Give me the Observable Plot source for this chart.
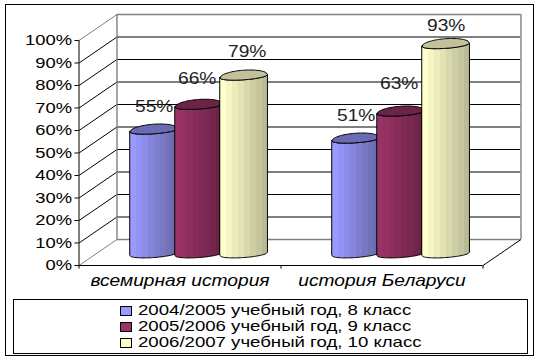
<!DOCTYPE html>
<html><head><meta charset="utf-8">
<script src="https://cdn.jsdelivr.net/npm/d3@7"></script>
<script src="https://cdn.jsdelivr.net/npm/@observablehq/plot@0.6"></script>
<style>
html,body{margin:0;padding:0;background:#fff;width:541px;height:361px;overflow:hidden}
body{position:relative;font-family:"Liberation Sans",Arial,sans-serif;color:#000}
#frame{position:absolute;left:5px;top:4px;width:527px;height:350px;border:1.5px solid #000;pointer-events:none}
#chart{position:absolute;left:0;top:0}
#chart svg{display:block}
#legend{position:absolute;left:13px;top:299px;width:513px;height:53px;border:1.5px solid #000}
.row{position:absolute;left:106px;height:16px;white-space:nowrap}
.sw{position:absolute;left:0;top:2px;width:10px;height:8px;border:1px solid #000}
.tx{position:absolute;left:18px;top:-3px;font-size:15px;line-height:17px;transform:scaleX(1.24);transform-origin:0 0}
</style></head><body>
<div id="chart"></div>
<div id="legend"></div>
<div id="frame"></div>
<script>
const categories = ["всемирная история", "история Беларуси"];
const seriesNames = ["2004/2005 учебный год, 8 класс", "2005/2006 учебный год, 9 класс", "2006/2007 учебный год, 10 класс"];
const series2004 = [55, 51];
const series2005 = [66, 63];
const series2006 = [79, 93];
const yTicks = [0, 10, 20, 30, 40, 50, 60, 70, 80, 90, 100];
const catTicks = [0, 1, 2];

// styles
const swatchColors = ["#9999ff", "#993366", "#ffffcc"];
const topColors = ["#6b6bb3", "#6b2447", "#c2c29a"];
const bands = [
  ["#9999ff","#9292f3","#8c8ce8","#8585dc","#7f7fd0","#7878c4","#7272b8","#6b6bad"],
  ["#993366","#933162","#8c2f5e","#852c59","#7f2a55","#782851","#72264c","#6b2448"],
  ["#ffffcc","#f5f5c4","#ecebbc","#e2e2b5","#d8d8ad","#cecea5","#c5c59e","#bbbb96"]
];
const labelLift = [[7.7, 9.3, 8.4], [7.7, 10.3, 5.8]]; // label height above the cylinder, in axis units
const labelShift = [[0, -2, 3], [0, -2, 0]];           // label sideways nudge, in pixels

// pseudo-3D projection, in units of the two scales
const depthX = 0.188, depthY = 11.55;      // back wall offset
const start = 0.255, step = 0.2228, barW = 0.2347; // cylinder placement within a category
const baseY = 5.33;                        // cylinder floor position
const back = 6 / 2.25, front = 3.6 / 2.25, tilt = 1.65 / 2.25, chordDrop = 0.95 / 2.25;

const values = [series2004, series2005, series2006];
const ts = d3.range(-1, 1.0001, 0.05);
const cylinder = (cat, s) => {
  const x0 = cat + start + s * step, v = values[s][cat];
  return ts.map(t => {
    const r = Math.sqrt(Math.max(0, 1 - t * t)), c = tilt * t - chordDrop;
    return {
      x: x0 + (t + 1) / 2 * barW,
      bot: baseY + c - front * r,
      topFront: v + baseY + c - front * r,
      topBack: v + baseY + c + back * r
    };
  });
};

const defs = () => {
  const d = d3.create("svg:defs");
  bands.forEach((b, i) => {
    const g = d.append("linearGradient").attr("id", "cyl" + i).attr("x1", 0).attr("x2", 1).attr("y1", 0).attr("y2", 0);
    b.forEach((c, k) => {
      g.append("stop").attr("offset", k / b.length).attr("stop-color", c);
      g.append("stop").attr("offset", (k + 1) / b.length).attr("stop-color", c);
    });
  });
  return d.node();
};

const wall = "#808080";
const marks = [
  defs,
  // grid on back wall and left wall
  Plot.ruleY(yTicks.filter(v => v > 0 && v < 100), {x1: depthX, x2: 2 + depthX, y: v => v + depthY, stroke: "#000", strokeWidth: 1.2}),
  Plot.link(yTicks.filter(v => v > 0 && v < 100), {x1: 0, x2: depthX, y1: v => v, y2: v => v + depthY, stroke: "#000"}),
  // wall outlines
  Plot.link([0, 100], {x1: 0, x2: depthX, y1: v => v, y2: v => v + depthY, stroke: wall}),
  Plot.ruleY([0, 100], {x1: depthX, x2: 2 + depthX, y: v => v + depthY, stroke: wall, strokeWidth: 1.4}),
  Plot.ruleX([depthX, 2 + depthX], {y1: depthY, y2: 100 + depthY, stroke: wall, strokeWidth: 1.4}),
  // floor
  Plot.link([2], {x1: 2, x2: 2 + depthX, y1: 0, y2: depthY, stroke: "#000"}),
  Plot.ruleY([0], {x1: 0, x2: 2, stroke: "#000", strokeWidth: 1.2}),
  Plot.ruleX(catTicks, {y1: 0, y2: -1.6, stroke: "#000"}),
  Plot.ruleX([0], {y1: 0, y2: 100, stroke: "#000"})
];
categories.forEach((_, cat) => {
  values.forEach((_, s) => {
    const pts = cylinder(cat, s);
    marks.push(
      Plot.areaY(pts, {x: "x", y1: "bot", y2: "topFront", fill: `url(#cyl${s})`, stroke: "#000", strokeWidth: 1}),
      Plot.areaY(pts, {x: "x", y1: "topFront", y2: "topBack", fill: topColors[s], stroke: "#000", strokeWidth: 1})
    );
  });
});
categories.forEach((_, cat) => {
  values.forEach((_, s) => {
    marks.push(Plot.text([values[s][cat]], {
      x: cat + start + s * step + barW / 2,
      y: v => v + baseY + labelLift[cat][s],
      text: v => v + "%",
      dx: labelShift[cat][s],
      fontSize: 16, fill: "#222", lineAnchor: "bottom", textAnchor: "middle"
    }));
  });
});
marks.push(
  Plot.axisY(yTicks, {anchor: "left", tickSize: 4, tickPadding: 3, fontSize: 15.3, tickFormat: d => d + "%", label: null, stroke: "#000", fill: "#000"}),
  Plot.text(categories, {x: (d, i) => i + 0.5, y: -7, text: d => d, fontStyle: "italic", fontSize: 16, fill: "#000", lineAnchor: "middle"})
);

const chart = Plot.plot({
  width: 541, height: 298,
  marginLeft: 78.5, marginRight: 58.5, marginTop: 40, marginBottom: 33,
  x: {domain: [0, 2], axis: null},
  y: {domain: [0, 100], axis: null},
  style: {fontFamily: '"Liberation Sans", Arial, sans-serif', background: "transparent", overflow: "visible"},
  marks
});
document.getElementById("chart").appendChild(chart);
// The reference's type is horizontally stretched: widen each text about its anchor.
d3.select(chart).selectAll("text").each(function () {
  const t = this.getAttribute("transform") || "";
  this.setAttribute("transform", `${t} scale(1.2,1)`);
});

const legend = d3.select("#legend");
seriesNames.forEach((n, i) => {
  const r = legend.append("div").attr("class", "row").style("top", (4 + i * 16) + "px");
  r.append("div").attr("class", "sw").style("background", swatchColors[i]);
  r.append("div").attr("class", "tx").text(n);
});
</script>
</body></html>
